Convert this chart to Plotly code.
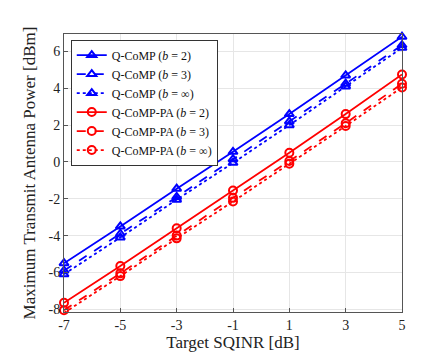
import plotly.graph_objects as go

# Target SQINR [dB]
sqinr = [-7, -5, -3, -1, 1, 3, 5]

# Maximum transmit antenna power [dBm]
qcomp_b2 = [-5.5, -3.5, -1.45, 0.55, 2.6, 4.7, 6.8]
qcomp_b3 = [-5.9, -3.9, -1.9, 0.15, 2.2, 4.25, 6.35]
qcomp_binf = [-6.1, -4.1, -2.05, -0.05, 2.0, 4.1, 6.2]
qcomppa_b2 = [-7.65, -5.65, -3.6, -1.55, 0.5, 2.6, 4.75]
qcomppa_b3 = [-8.05, -6.05, -4.0, -1.95, 0.05, 2.1, 4.25]
qcomppa_binf = [-8.2, -6.2, -4.15, -2.15, -0.1, 1.95, 4.05]

names = ["Q-CoMP (<i>b</i> = 2)", "Q-CoMP (<i>b</i> = 3)", "Q-CoMP (<i>b</i> = ∞)",
         "Q-CoMP-PA (<i>b</i> = 2)", "Q-CoMP-PA (<i>b</i> = 3)", "Q-CoMP-PA (<i>b</i> = ∞)"]

series = [qcomp_b2, qcomp_b3, qcomp_binf, qcomppa_b2, qcomppa_b3, qcomppa_binf]
colors = ["#0000ff"] * 3 + ["#ff0000"] * 3
dashes = ["solid", "dash", "dot"] * 2
symbols = ["triangle-up-open"] * 3 + ["circle-open"] * 3

fig = go.Figure()
for y, name, c, d, s in zip(series, names, colors, dashes, symbols):
    fig.add_trace(go.Scatter(
        x=sqinr, y=y, name=name, mode="lines+markers", cliponaxis=False,
        line=dict(color=c, width=1.8, dash=d),
        marker=dict(symbol=s, size=8, color=c, line=dict(width=2, color=c)),
    ))

fig.update_layout(
    width=436, height=353,
    margin=dict(l=56, r=42, t=26, b=40),
    paper_bgcolor="white", plot_bgcolor="white",
    font=dict(family="Liberation Serif, DejaVu Serif, serif", size=14, color="#222"),
    showlegend=True,
    legend=dict(x=0.02, y=0.98, xanchor="left", yanchor="top",
                bgcolor="white", bordercolor="#333", borderwidth=1,
                font=dict(size=12, color="#111"), tracegroupgap=0, itemwidth=30),
)
fig.update_xaxes(
    range=[-7, 5], tickvals=sqinr, ticktext=["-7", "-5", "-3", "-1", "1", "3", "5"],
    showgrid=True, gridcolor="#e6e6e6", showline=True, linecolor="#555", mirror=True,
    ticks="inside", ticklen=4, tickcolor="#555", zeroline=False,
    title=dict(text="Target SQINR [dB]", standoff=4),
)
fig.update_yaxes(
    range=[-8.15, 6.95], tickvals=[-8, -6, -4, -2, 0, 2, 4, 6],
    ticktext=["-8", "-6", "-4", "-2", "0", "2", "4", "6"],
    showgrid=True, gridcolor="#e6e6e6", showline=True, linecolor="#555", mirror=True,
    ticks="inside", ticklen=4, tickcolor="#555", zeroline=False,
    title=dict(text="Maximum Transmit Antenna Power [dBm]", standoff=8),
)

fig.write_html("out.html")
